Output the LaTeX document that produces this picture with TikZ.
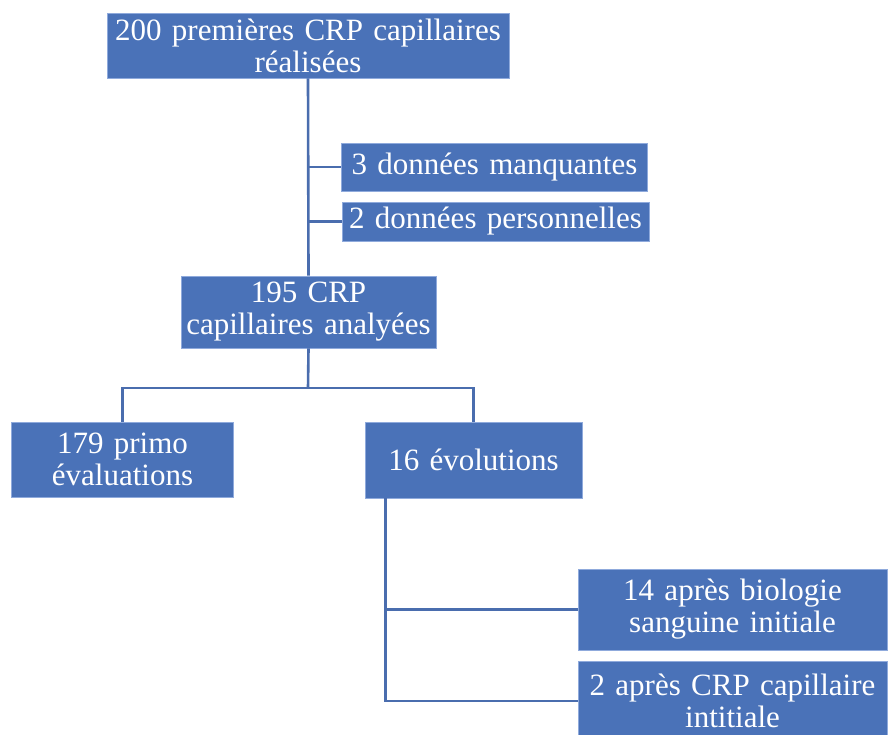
\documentclass[tikz,border=0pt]{standalone}
\usepackage{fontspec}
\setmainfont{Liberation Serif}
\usetikzlibrary{positioning}
\definecolor{boxblue}{HTML}{4A72B8}
\definecolor{boxedge}{HTML}{8FAADC}
\definecolor{linkblue}{HTML}{4A6DAE}
\tikzset{
  stage/.style={fill=boxblue, draw=boxedge, line width=0.8pt, text=white, align=center,
    inner sep=0pt, font=\fontsize{31}{32}\selectfont},
  link/.style={draw=linkblue, line width=2.6pt}
}
\begin{document}
\begin{tikzpicture}[x=1pt, y=-1pt]
    \useasboundingbox (0,0) rectangle (888,734);
    \clip (0,0) rectangle (888,734);

    \node[stage, minimum width=402, minimum height=65, text width=400] (done) at (308,45.5)
        {200 premières CRP capillaires\\réalisées};
    \node[stage, minimum width=306, minimum height=48, text width=304] (missing) at (494.5,167)
        {3 données manquantes};
    \node[stage, minimum width=307, minimum height=39, text width=305] (personal) at (495.5,221.5)
        {2 données personnelles};
    \node[stage, minimum width=255, minimum height=72, text width=253] (analysed) at (308.5,312)
        {195 CRP\\capillaires analyées};
    \node[stage, minimum width=222, minimum height=75, text width=220] (primo) at (122.5,459.5)
        {179 primo\\évaluations};
    \node[stage, minimum width=217, minimum height=76, text width=215] (evol) at (473.5,460)
        {16 évolutions};
    \node[stage, minimum width=309, minimum height=81, text width=307] (blood) at (732.5,609.5)
        {14 après biologie\\sanguine initiale};
    \node[stage, minimum width=309, minimum height=80, text width=307] (capil) at (732.5,701)
        {2 après CRP capillaire\\intitiale};

    \coordinate (split) at (308,388);
    \coordinate (evotrunk) at ([xshift=21pt]evol.south west);

    % exclusions
    \path[link] (done.south) -- (analysed.north);
    \path[link] (missing.west -| done.south) -- (missing.west);
    \path[link] (personal.west -| done.south) -- (personal.west);

    % split of analysed samples
    \path[link] (analysed.south) -- (split);
    \path[link] (primo.north) |- (split) -| (evol.north);

    % follow-up
    \path[link] (evotrunk) |- (blood.west);
    \path[link] (evotrunk) |- (capil.west);
\end{tikzpicture}
\end{document}
